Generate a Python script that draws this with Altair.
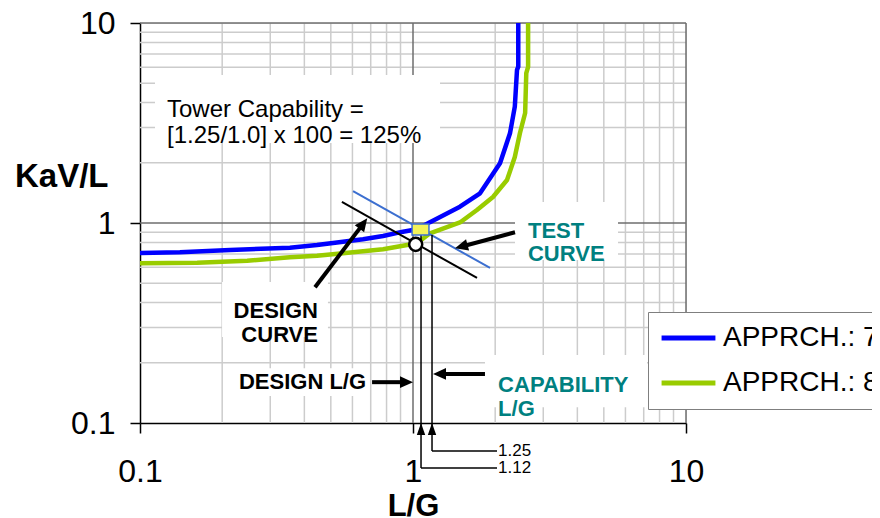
import altair as alt
import pandas as pd

# ---------------- data ----------------
series_names = ["APPRCH.: 7", "APPRCH.: 8"]
series_colors = ["#0000ff", "#99cc00"]

blue_x = [0.1, 0.140, 0.214, 0.354, 0.445, 0.554, 0.656, 0.777, 0.919, 1.034, 1.154,
          1.486, 1.76, 2.083, 2.266, 2.36, 2.404, 2.43, 2.43]
blue_y = [0.708, 0.714, 0.733, 0.752, 0.776, 0.806, 0.829, 0.861, 0.905, 0.930, 1.01,
          1.206, 1.408, 1.988, 2.809, 3.815, 5.82, 6.05, 10.0]
green_x = [0.1, 0.162, 0.247, 0.354, 0.445, 0.554, 0.777, 1.034, 1.154, 1.486, 1.715,
           1.963, 2.21, 2.36, 2.465, 2.575, 2.60, 2.64, 2.64]
green_y = [0.629, 0.633, 0.648, 0.674, 0.686, 0.706, 0.739, 0.792, 0.888, 1.006, 1.161,
           1.349, 1.64, 2.14, 2.82, 3.55, 5.62, 6.03, 10.0]

axis_ticks = [0.1, 1, 10]
minor_grid = [0.2, 0.3, 0.4, 0.5, 0.6, 0.7, 0.8, 0.9, 2, 3, 4, 5, 6, 7, 8, 9]
major_grid = [1, 10]

# operating lines (test = blue thin, design = black thin)
op_names = ["test", "design"]
op_x1 = [0.603, 0.549]
op_y1 = [1.445, 1.274]
op_x2 = [1.915, 1.716]
op_y2 = [0.596, 0.531]
op_colors = ["#3c6fd0", "#000000"]

# design point and test point
design_pt_x = [1.023]
design_pt_y = [0.782]
test_box_x = [0.992, 1.144]
test_box_y = [0.871, 0.989]

# capability leaders (drawn positions) and their labels
lead_x = [1.070, 1.174]
lead_y_end = [0.0596, 0.0724]
lead_x_end = 2.031
lead_labels = ["1.12", "1.25"]

# white label boxes [x1, x2, y1, y2]
box_x1 = [0.1135, 0.1998, 2.364, 1.835, 0.2248]
box_x2 = [1.256, 0.488, 5.636, 7.2, 0.684]
box_y1 = [2.51, 0.269, 0.653, 0.120, 0.1365]
box_y2 = [5.50, 0.507, 1.274, 0.219, 0.188]

# arrows: tail, shaft end, tip, angle
arr_tail_x = [0.708, 1.835, 2.364, 0.4376]
arr_tail_y = [0.160, 0.176, 0.899, 0.477]
arr_base_x = [0.904, 1.31, 1.572, 0.640]
arr_base_y = [0.160, 0.176, 0.774, 0.945]
arr_tip_x = [1.0, 1.184, 1.425, 0.680]
arr_tip_y = [0.160, 0.176, 0.747, 1.056]
arr_angle = [90, 270, 255, 37]

# texts
tower_text = "Tower Capability =\n[1.25/1.0] x 100 = 125%"
FONT = "Liberation Sans"

# ---------------- build ----------------
xs = alt.Scale(type="log", domain=[0.1, 10], nice=False)
ys = alt.Scale(type="log", domain=[0.1, 10], nice=False)

rows = []
for name, xv, yv in [(series_names[0], blue_x, blue_y), (series_names[1], green_x, green_y)]:
    for i, (a, b) in enumerate(zip(xv, yv)):
        rows.append({"series": name, "x": a, "y": b, "i": i})
curves_df = pd.DataFrame(rows)

xaxis = alt.Axis(values=axis_ticks, format="~g", grid=False, domainColor="black",
                 domainWidth=1.5, tickColor="black", tickWidth=1.5, tickSize=10,
                 labelFont=FONT, labelFontSize=32, labelPadding=23, labelColor="black",
                 title="L/G", titleFont=FONT, titleFontSize=31, titleFontWeight="bold",
                 titlePadding=4, titleColor="black", labelFlush=False)
yaxis = alt.Axis(values=axis_ticks, format="~g", grid=False, domainColor="black",
                 domainWidth=1.5, tickColor="black", tickWidth=1.5, tickSize=10,
                 labelFont=FONT, labelFontSize=32, labelPadding=15, labelColor="black",
                 title="KaV/L", titleFont=FONT, titleFontSize=33, titleFontWeight="bold",
                 titleAngle=0, titleAlign="right", titleBaseline="middle",
                 titleX=-32, titleY=153, titleColor="black", labelFlush=False)

gx = pd.DataFrame({"v": minor_grid})
minor_v = alt.Chart(gx).mark_rule(color="#cccccc", strokeWidth=1.5).encode(
    x=alt.X("v:Q", scale=xs, axis=xaxis))
minor_h = alt.Chart(gx).mark_rule(color="#cccccc", strokeWidth=1.5).encode(
    y=alt.Y("v:Q", scale=ys, axis=yaxis))
gm = pd.DataFrame({"v": major_grid})
major_v = alt.Chart(gm).mark_rule(color="#6e6e6e", strokeWidth=1.5).encode(x=alt.X("v:Q", scale=xs))
major_h = alt.Chart(gm).mark_rule(color="#6e6e6e", strokeWidth=1.5).encode(y=alt.Y("v:Q", scale=ys))

boxes = alt.Chart(pd.DataFrame({"x1": box_x1, "x2": box_x2, "y1": box_y1, "y2": box_y2})).mark_rect(
    color="white").encode(x=alt.X("x1:Q", scale=xs), x2="x2:Q", y=alt.Y("y1:Q", scale=ys), y2="y2:Q")

curves = alt.Chart(curves_df).mark_line(strokeWidth=4.5, strokeJoin="round").encode(
    x=alt.X("x:Q", scale=xs),
    y=alt.Y("y:Q", scale=ys),
    order="i:Q",
    color=alt.Color("series:N",
                    scale=alt.Scale(domain=series_names, range=series_colors),
                    legend=alt.Legend(orient="none", legendX=508, legendY=289, title=None,
                                      symbolType="stroke", symbolStrokeWidth=5, symbolSize=2900,
                                      labelFont=FONT, labelFontSize=28, labelColor="black",
                                      labelLimit=500, labelOffset=5, padding=11, clipHeight=30,
                                      strokeColor="#7f7f7f", fillColor="white", rowPadding=15)))

ops = alt.Chart(pd.DataFrame({"n": op_names, "x1": op_x1, "y1": op_y1, "x2": op_x2, "y2": op_y2,
                              "c": op_colors})).mark_rule(strokeWidth=2).encode(
    x=alt.X("x1:Q", scale=xs), y=alt.Y("y1:Q", scale=ys), x2="x2:Q", y2="y2:Q",
    color=alt.Color("c:N", scale=None))

lead_rows = []
for lx, ly in zip(lead_x, lead_y_end):
    lead_rows.append({"x1": lx, "y1": test_box_y[0], "x2": lx, "y2": ly})
    lead_rows.append({"x1": lx, "y1": ly, "x2": lead_x_end, "y2": ly})
leads = alt.Chart(pd.DataFrame(lead_rows)).mark_rule(color="black", strokeWidth=1.5).encode(
    x=alt.X("x1:Q", scale=xs), y=alt.Y("y1:Q", scale=ys), x2="x2:Q", y2="y2:Q")

ybox = alt.Chart(pd.DataFrame({"x1": [test_box_x[0]], "x2": [test_box_x[1]],
                               "y1": [test_box_y[0]], "y2": [test_box_y[1]]})).mark_rect(
    fill="#f2f25a", stroke="#3c6fd0", strokeWidth=1.5).encode(
    x=alt.X("x1:Q", scale=xs), x2="x2:Q", y=alt.Y("y1:Q", scale=ys), y2="y2:Q")

circ = alt.Chart(pd.DataFrame({"x": design_pt_x, "y": design_pt_y})).mark_point(
    shape="circle", filled=False, fill="white", fillOpacity=1, stroke="black", strokeWidth=2.5,
    size=170, opacity=1).encode(x=alt.X("x:Q", scale=xs), y=alt.Y("y:Q", scale=ys))

shafts = alt.Chart(pd.DataFrame({"x1": arr_tail_x, "y1": arr_tail_y, "x2": arr_base_x,
                                 "y2": arr_base_y})).mark_rule(color="black", strokeWidth=4).encode(
    x=alt.X("x1:Q", scale=xs), y=alt.Y("y1:Q", scale=ys), x2="x2:Q", y2="y2:Q")
heads = alt.Chart(pd.DataFrame({"x": arr_tip_x, "y": arr_tip_y, "a": arr_angle})).mark_point(
    shape="M0,0L0.45,1L-0.45,1Z", filled=True, color="black", size=676, opacity=1).encode(
    x=alt.X("x:Q", scale=xs), y=alt.Y("y:Q", scale=ys), angle=alt.Angle("a:Q", scale=None))
up_heads = alt.Chart(pd.DataFrame({"x": lead_x, "y": [0.1, 0.1]})).mark_point(
    shape="M0,0L0.35,1L-0.35,1Z", filled=True, color="black", size=576, opacity=1).encode(
    x=alt.X("x:Q", scale=xs), y=alt.Y("y:Q", scale=ys))

def label(txt, x, y, align, size, color, weight="normal", lh=24):
    return alt.Chart(pd.DataFrame({"x": [x], "y": [y], "t": [txt]})).mark_text(
        align=align, baseline="middle", font=FONT, fontSize=size, fontWeight=weight,
        color=color, lineBreak="\n", lineHeight=lh).encode(
        x=alt.X("x:Q", scale=xs), y=alt.Y("y:Q", scale=ys), text="t:N")

TEAL = "#008080"
texts = [
    label(tower_text, 0.1256, 3.673, "left", 24, "black", lh=26),
    label("DESIGN\nCURVE", 0.4487, 0.363, "right", 22, "black", "bold", 24),
    label("TEST\nCURVE", 2.637, 0.907, "left", 22, TEAL, "bold", 23),
    label("CAPABILITY\nL/G", 2.05, 0.155, "left", 22, TEAL, "bold", 24),
    label("DESIGN L/G", 0.3937, 0.160, "center", 22, "black", "bold"),
    label(lead_labels[0], 2.05, lead_y_end[0], "left", 17, "black"),
    label(lead_labels[1], 2.05, lead_y_end[1], "left", 17, "black"),
]

chart = alt.layer(minor_v, minor_h, major_v, major_h, boxes, curves, ops, leads, ybox, circ,
                  shafts, heads, up_heads, *texts).properties(
    width=546, height=400, autosize=alt.AutoSizeParams(type="none"),
    padding={"left": 132, "top": 15, "right": 186, "bottom": 95},
).configure_view(stroke="transparent").configure(background="white")

chart.save("out.html", embed_options={"renderer": "svg", "actions": False})
